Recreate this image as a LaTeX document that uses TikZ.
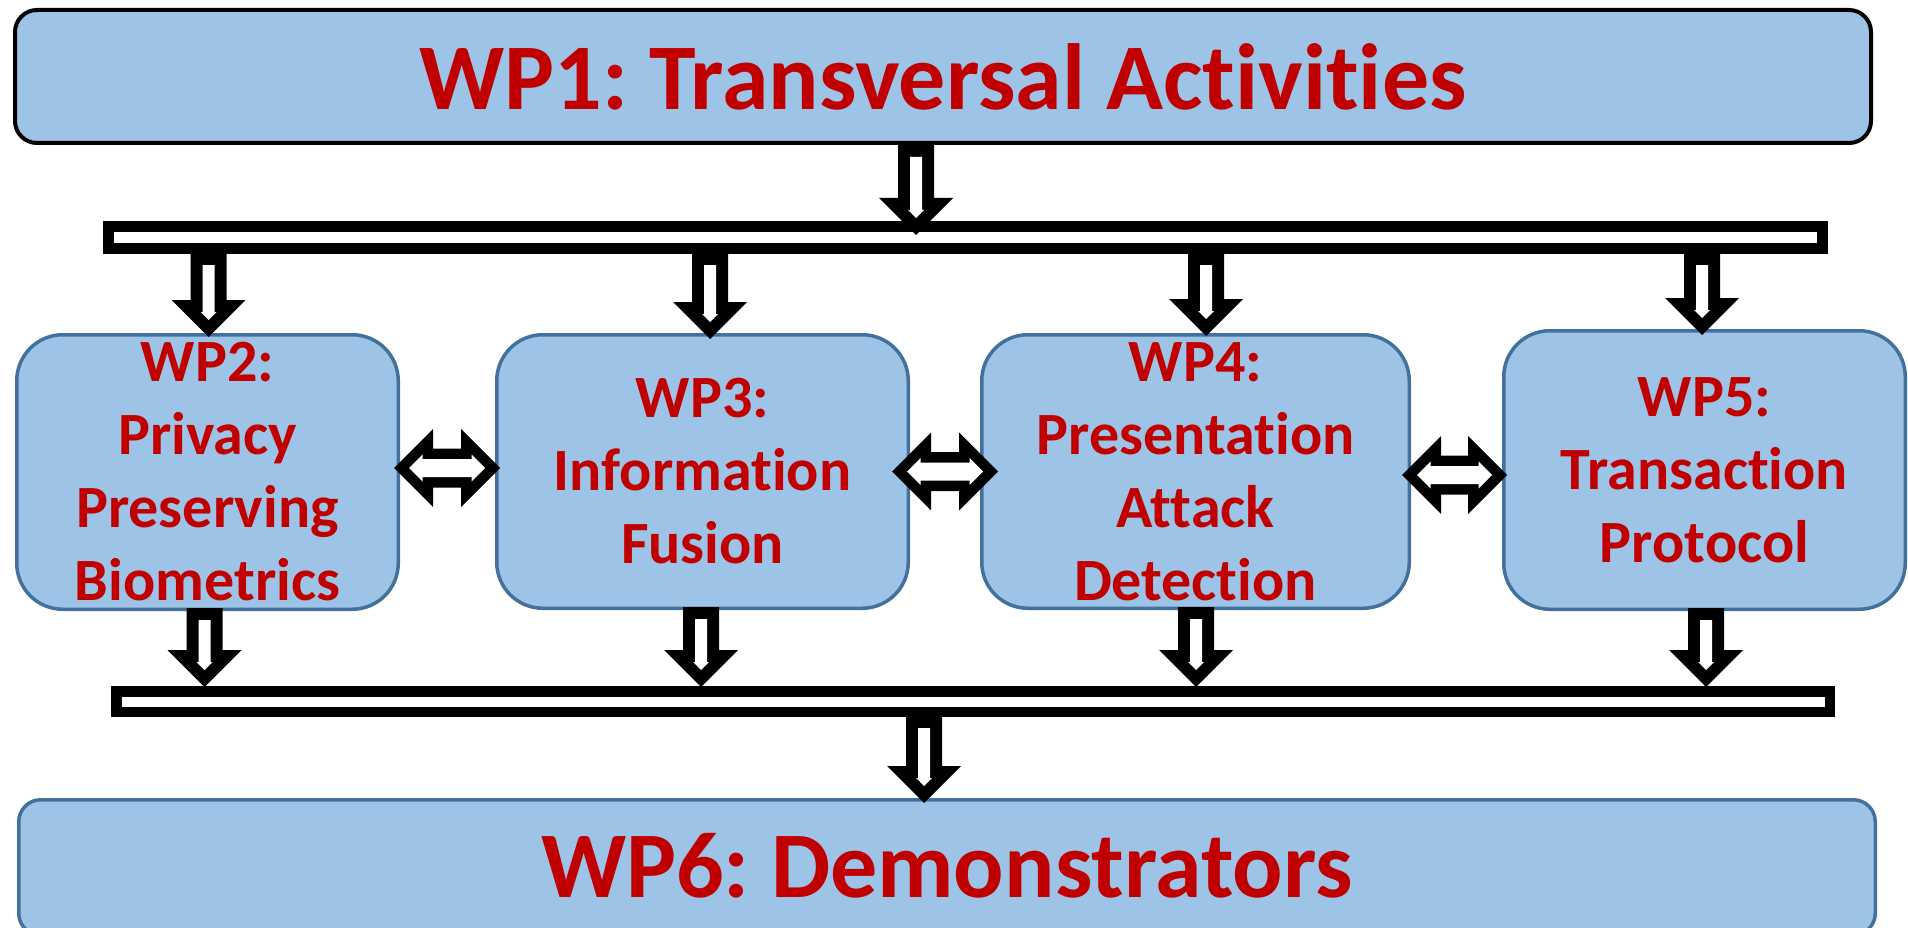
\documentclass[tikz,border=0pt]{standalone}
\usepackage{fontspec}
\setmainfont{Carlito}[RawFeature={-liga;-clig;-dlig}]
\usetikzlibrary{calc}
\definecolor{boxfill}{HTML}{9DC3E6}
\definecolor{boxline}{HTML}{41719C}
\definecolor{wpred}{HTML}{C00000}
\frenchspacing

% block arrow pointing down: #1 = top centre, #2 = tip (only y used)
\newcommand{\blkdown}[2]{%
 \fill[black] let \p1=(#1), \p2=(#2) in
  (\x1-18pt,\y1) -- (\x1+18pt,\y1) -- (\x1+18pt,\y2+37pt) -- (\x1+37pt,\y2+37pt) -- (\x1,\y2)
  -- (\x1-37pt,\y2+37pt) -- (\x1-18pt,\y2+37pt) -- cycle;
 \fill[white] let \p1=(#1), \p2=(#2) in
  (\x1-6pt,\y1-12pt) -- (\x1+6pt,\y1-12pt) -- (\x1+6pt,\y2+25pt) -- (\x1+8pt,\y2+25pt) -- (\x1,\y2+17pt)
  -- (\x1-8pt,\y2+25pt) -- (\x1-6pt,\y2+25pt) -- cycle;
}
% block double arrow: #1 = left tip, #2 = right tip (only x used)
\newcommand{\blkdouble}[2]{%
 \fill[black] let \p1=(#1), \p2=(#2) in
  (\x1,\y1) -- (\x1+39pt,\y1+39pt) -- (\x1+39pt,\y1+19.5pt) -- (\x2-39pt,\y1+19.5pt) -- (\x2-39pt,\y1+39pt)
  -- (\x2,\y1) -- (\x2-39pt,\y1-39pt) -- (\x2-39pt,\y1-19.5pt) -- (\x1+39pt,\y1-19.5pt) -- (\x1+39pt,\y1-39pt) -- cycle;
 \fill[white] let \p1=(#1), \p2=(#2) in
  (\x1+15pt,\y1) -- (\x1+28.5pt,\y1+13.5pt) -- (\x1+28.5pt,\y1+9pt) -- (\x2-28.5pt,\y1+9pt) -- (\x2-28.5pt,\y1+13.5pt)
  -- (\x2-15pt,\y1) -- (\x2-28.5pt,\y1-13.5pt) -- (\x2-28.5pt,\y1-9pt) -- (\x1+28.5pt,\y1-9pt) -- (\x1+28.5pt,\y1-13.5pt) -- cycle;
}

\tikzset{
 wpbox/.style={rectangle, draw=boxline, line width=3.5pt, fill=boxfill, rounded corners=46pt, inner sep=0pt},
 topbox/.style={rectangle, draw=black, line width=4pt, fill=boxfill, rounded corners=22pt, inner sep=0pt},
 botbox/.style={rectangle, draw=boxline, line width=3.5pt, fill=boxfill, rounded corners=22pt, inner sep=0pt},
 barbox/.style={rectangle, draw=black, fill=white, inner sep=0pt},
 wptext/.style={text=wpred, font=\fontsize{60}{73}\selectfont\bfseries, align=center, inner sep=0pt},
 bigtext/.style={text=wpred, font=\fontsize{94}{113}\selectfont\bfseries, inner sep=0pt, anchor=base},
}

\begin{document}
\begin{tikzpicture}[x=1pt,y=-1pt]
\useasboundingbox (0,0) rectangle (1908,928);
\clip (0,0) rectangle (1908,928);

% boxes
\node[topbox, minimum width=1856pt, minimum height=133pt] (wp1) at (943,76.5) {};
\node[botbox, minimum width=1856.5pt, minimum height=135.5pt] (wp6) at (947,867.5) {};
\node[wpbox, minimum width=381.5pt, minimum height=274.5pt] (wp2) at (207.5,472) {};
\node[wpbox, minimum width=411.5pt, minimum height=273.5pt] (wp3) at (702.5,471.5) {};
\node[wpbox, minimum width=427.5pt, minimum height=273.5pt] (wp4) at (1195.5,471.5) {};
\node[wpbox, minimum width=401.5pt, minimum height=278.5pt] (wp5) at (1704.5,470) {};

% bars
\node[barbox, line width=11pt, minimum width=1714pt, minimum height=22pt] (topbar) at (965.5,237.5) {};
\node[barbox, line width=10.5pt, minimum width=1713.5pt, minimum height=20.5pt] (botbar) at (973,701.5) {};

% arrow end points
\coordinate (a1s) at (916,0 |- wp1.south);
\coordinate (a1e) at ($(916,0 |- topbar.north)+(0,14)$);
\coordinate (u2s) at ($(208.5,0 |- topbar.south)+(0,-1)$);
\coordinate (u2e) at ($(208.5,0 |- wp2.north)+(0,4)$);
\coordinate (u3s) at ($(710,0 |- topbar.south)+(0,-1)$);
\coordinate (u3e) at ($(710,0 |- wp3.north)+(0,6)$);
\coordinate (u4s) at ($(1206,0 |- topbar.south)+(0,-1)$);
\coordinate (u4e) at ($(1206,0 |- wp4.north)+(0,3)$);
\coordinate (u5s) at ($(1702,0 |- topbar.south)+(0,-1)$);
\coordinate (u5e) at ($(1702,0 |- wp5.north)+(0,6)$);
\coordinate (l2s) at ($(204.5,0 |- wp2.south)+(0,-3)$);
\coordinate (l2e) at ($(204.5,0 |- botbar.north)+(0,1)$);
\coordinate (l3s) at ($(701,0 |- wp3.south)+(0,-3)$);
\coordinate (l3e) at ($(701,0 |- botbar.north)+(0,1)$);
\coordinate (l4s) at ($(1196,0 |- wp4.south)+(0,-3)$);
\coordinate (l4e) at ($(1196,0 |- botbar.north)+(0,1)$);
\coordinate (l5s) at ($(1706,0 |- wp5.south)+(0,-3)$);
\coordinate (l5e) at ($(1706,0 |- botbar.north)+(0,1)$);
\coordinate (b6s) at ($(924,0 |- botbar.south)+(0,-1)$);
\coordinate (b6e) at ($(924,0 |- wp6.north)+(0,5)$);
\coordinate (d1l) at ($(wp2.east)+(-6,-4)$);
\coordinate (d1r) at ($(wp3.west)+(5,-4)$);
\coordinate (d2l) at ($(wp3.east)+(-18,0)$);
\coordinate (d2r) at ($(wp4.west)+(18,0)$);
\coordinate (d3l) at ($(wp4.east)+(-9,3.5)$);
\coordinate (d3r) at ($(wp5.west)+(5,3.5)$);

% arrows
\blkdown{a1s}{a1e}
\blkdown{u2s}{u2e}
\blkdown{u3s}{u3e}
\blkdown{u4s}{u4e}
\blkdown{u5s}{u5e}
\blkdown{l2s}{l2e}
\blkdown{l3s}{l3e}
\blkdown{l4s}{l4e}
\blkdown{l5s}{l5e}
\blkdown{b6s}{b6e}
\blkdouble{d1l}{d1r}
\blkdouble{d2l}{d2r}
\blkdouble{d3l}{d3r}

% texts
\node[bigtext] (t1) at (943,110) {WP1: Transversal Activities};
\node[bigtext] (t6) at (947,897) {WP6: Demonstrators};
\node[wptext] (t2) at (wp2.center) {WP2:\\Privacy\\Preserving\\Biometrics};
\node[wptext] (t3) at (wp3.center) {WP3:\\Information\\Fusion};
\node[wptext] (t4) at (wp4.center) {WP4:\\Presentation\\Attack\\Detection};
\node[wptext] (t5) at (wp5.center) {WP5:\\Transaction\\Protocol};
\end{tikzpicture}
\end{document}
